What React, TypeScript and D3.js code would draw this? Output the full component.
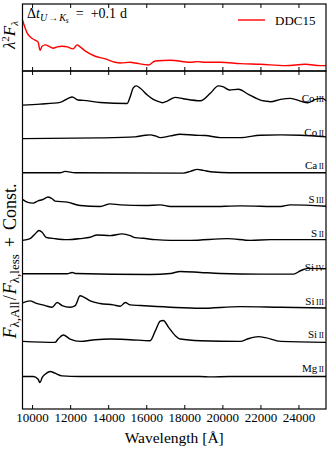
import React from 'react';
import * as d3 from 'd3';

// wavelength axis ticks (Angstrom)
const waveTicks = [10000, 12000, 14000, 16000, 18000, 20000, 22000, 24000];

// top panel: lambda^2 F_lambda of the DDC15 model (arbitrary units)
const ddc15: [number, number][] = [
  [9470, 0.76], [9710, 0.57], [9870, 0.51], [10130, 0.46], [10290, 0.43],
  [10390, 0.31], [10500, 0.37], [10660, 0.39], [10920, 0.36], [11080, 0.34],
  [11290, 0.36], [11550, 0.37], [11820, 0.36], [12130, 0.33], [12340, 0.39],
  [12500, 0.36], [12760, 0.3], [13290, 0.22], [13820, 0.18], [14340, 0.13],
  [14600, 0.12], [15130, 0.13], [15390, 0.12], [16080, 0.09], [16450, 0.15],
  [17240, 0.16], [18290, 0.13], [18660, 0.14], [19080, 0.13], [19870, 0.13],
  [20920, 0.11], [21970, 0.1], [23290, 0.08], [24340, 0.1], [25130, 0.08],
  [25420, 0.08],
];

// main panel: flux ratio all / less for each ion
const coIII: [number, number][] = [
  [9470, 0.99], [10390, 1.02], [11450, 1.07], [11870, 1.19], [12080, 1.23],
  [12390, 1.14], [12660, 1.13], [13550, 1.07], [14970, 1.04], [15130, 1.24],
  [15290, 1.5], [15450, 1.56], [15660, 1.49], [16030, 1.29], [16340, 1.16],
  [16710, 1.08], [16820, 1.06], [17080, 1.11], [17500, 1.22], [17920, 1.18],
  [18820, 1.12], [19340, 1.34], [19760, 1.56], [20030, 1.53], [20340, 1.44],
  [20820, 1.46], [21340, 1.31], [21970, 1.14], [22240, 1.11], [22500, 1.09],
  [23030, 1.16], [23550, 1.19], [24080, 1.11], [24450, 1.06], [24870, 1.16],
  [25240, 1.19], [25420, 1.12],
];
const coII: [number, number][] = [
  [9470, 1.0], [13550, 1.02], [15390, 1.05], [15920, 1.1], [16180, 1.11],
  [16450, 1.08], [16710, 1.03], [17240, 1.08], [17760, 1.13], [18550, 1.1],
  [19080, 1.09], [19870, 1.03], [20920, 1.03], [21970, 1.1], [23030, 1.11],
  [24080, 1.1], [25420, 1.05],
];
const caII: [number, number][] = [
  [9470, 0.99], [11450, 0.99], [11710, 1.03], [12240, 0.99], [17920, 0.98],
  [18290, 1.03], [18660, 1.09], [18970, 1.06], [19500, 1.01], [20340, 0.99],
  [25420, 0.99],
];
const sIII: [number, number][] = [
  [9470, 1.2], [9710, 1.12], [10030, 1.09], [10290, 1.16], [10500, 1.19],
  [10820, 1.27], [11030, 1.22], [11180, 1.15], [11820, 1.12], [12500, 1.02],
  [13550, 0.99], [14080, 1.07], [14610, 1.04], [15920, 1.02], [16710, 1.04],
  [17240, 0.99], [19340, 0.99], [20920, 1.01], [23030, 0.99], [23550, 1.04],
  [25420, 1.0],
];
const sII: [number, number][] = [
  [9470, 0.99], [9870, 1.04], [10130, 1.18], [10340, 1.28], [10500, 1.23],
  [10710, 1.08], [11180, 1.04], [11820, 1.01], [12500, 1.04], [13030, 1.08],
  [13390, 1.15], [14080, 1.13], [14710, 1.18], [15130, 1.13], [15390, 1.07],
  [15820, 1.05], [16450, 1.01], [17240, 0.99], [18290, 0.99], [20240, 1.04],
  [21450, 0.99], [22500, 1.01], [23550, 1.01], [25420, 1.01],
];
const siIV: [number, number][] = [
  [9470, 1.0], [11820, 1.0], [12080, 1.04], [12240, 1.01], [16180, 0.98],
  [17240, 1.01], [17760, 1.07], [18820, 1.04], [19870, 1.01], [21970, 0.99],
  [23710, 0.99], [24080, 1.09], [24450, 1.16], [25420, 1.15],
];
const siIII: [number, number][] = [
  [9470, 1.14], [9870, 1.2], [10130, 1.14], [10660, 1.06], [11030, 1.01],
  [11290, 1.15], [11550, 1.06], [11970, 1.01], [12240, 1.06], [12500, 1.35],
  [12660, 1.32], [13030, 1.2], [13550, 1.12], [14240, 1.08], [14610, 1.04],
  [14870, 1.15], [15130, 1.08], [15660, 1.06], [17240, 1.01], [18820, 0.98],
  [20920, 1.03], [23030, 1.01], [25420, 0.99],
];
const siII: [number, number][] = [
  [9470, 1.0], [11180, 0.97], [11340, 1.07], [11610, 1.19], [11970, 1.07],
  [12500, 1.0], [13290, 1.05], [14080, 1.07], [15130, 1.05], [16180, 1.02],
  [16450, 1.31], [16710, 1.6], [16870, 1.62], [17130, 1.43], [17500, 1.17],
  [17760, 1.07], [18820, 1.02], [20920, 1.0], [21290, 1.07], [21870, 1.14],
  [22240, 1.11], [23030, 1.0], [25420, 0.97],
];
const mgII: [number, number][] = [
  [9470, 0.96], [10030, 0.96], [10290, 0.88], [10390, 0.78], [10500, 0.93],
  [10660, 1.03], [10920, 1.11], [11180, 1.06], [11550, 0.98], [12500, 0.96],
  [18820, 0.96], [19340, 0.95], [20340, 0.96], [25420, 0.96],
];

const ionElements = ['Co', 'Co', 'Ca', 'S', 'S', 'Si', 'Si', 'Si', 'Mg'];
const ionStages = ['III', 'II', 'II', 'III', 'II', 'IV', 'III', 'II', 'II'];
const ionSeries = [coIII, coII, caII, sIII, sII, siIV, siIII, siII, mgII];
const ionOffsets = [8, 7, 6, 5, 4, 3, 2, 1, 0];

const W = 332;
const H = 450;
const left = 22.5;
const right = 326;
const topTop = 4;
const mid = 71;
const bottom = 409;
const serif = "'Liberation Serif', 'Times New Roman', 'DejaVu Serif', serif";

const App = () => {
  const x = d3.scaleLinear().domain([9470, 25420]).range([left, right]);
  const yTop = d3.scaleLinear().domain([0, 1]).range([mid, topTop]);
  const yMain = d3.scaleLinear().domain([0, 10]).range([bottom, mid]);

  const topLine = d3.line<[number, number]>()
    .x(d => x(d[0]))
    .y(d => yTop(d[1]))
    .curve(d3.curveMonotoneX);

  const ionLine = (offset: number) => d3.line<[number, number]>()
    .x(d => x(d[0]))
    .y(d => yMain(d[1] + offset))
    .curve(d3.curveMonotoneX);

  const tickLen = 4;

  return (
    <svg width={W} height={H} style={{ position: 'absolute', left: 0, top: 0 }}
      fontFamily={serif}>
      <rect width={W} height={H} fill="white" />

      {/* top panel */}
      <path d={topLine(ddc15) || ''} fill="none" stroke="#ff0000" strokeWidth={1.4} />
      <rect x={left} y={topTop} width={right - left} height={mid - topTop}
        fill="none" stroke="black" strokeWidth={1.2} />
      {waveTicks.map(t => (
        <g key={'tt' + t}>
          <line x1={x(t)} x2={x(t)} y1={topTop} y2={topTop + tickLen} stroke="black" strokeWidth={1} />
          <line x1={x(t)} x2={x(t)} y1={mid} y2={mid - tickLen} stroke="black" strokeWidth={1} />
        </g>
      ))}
      <text x={27} y={18} fontSize={14}>
        <tspan>Δ</tspan><tspan fontStyle="italic">t</tspan>
        <tspan fontSize={10} fontStyle="italic" dy={3}>U</tspan>
        <tspan fontSize={10} dx={1}>→</tspan>
        <tspan fontSize={10} fontStyle="italic" dx={1}>K</tspan>
        <tspan fontSize={7.5} fontStyle="italic" dy={1.5}>s</tspan>
        <tspan dy={-4.5} dx={7}>=</tspan>
        <tspan dx={7}>+0.1</tspan>
        <tspan dx={4}>d</tspan>
      </text>
      <line x1={238} x2={265} y1={20} y2={20} stroke="#ff0000" strokeWidth={1.4} />
      <text x={275} y={24.5} fontSize={13}>DDC15</text>
      <text transform={`translate(15,35) rotate(-90)`} textAnchor="middle" fontSize={17}>
        <tspan fontStyle="italic">λ</tspan>
        <tspan fontSize={11} dy={-6}>2</tspan>
        <tspan fontStyle="italic" dy={6}>F</tspan>
        <tspan fontSize={11} fontStyle="italic" dy={3}>λ</tspan>
      </text>

      {/* main panel */}
      {ionSeries.map((s, i) => (
        <path key={'ion' + i} d={ionLine(ionOffsets[i])(s) || ''}
          fill="none" stroke="black" strokeWidth={1.4} />
      ))}
      {ionSeries.map((s, i) => (
        <text key={'lab' + i} x={324} y={yMain(1 + ionOffsets[i]) - 3}
          textAnchor="end" fontSize={11}>
          {ionElements[i]}
          <tspan fontSize={8} dx={1.5}>{ionStages[i]}</tspan>
        </text>
      ))}
      <rect x={left} y={mid} width={right - left} height={bottom - mid}
        fill="none" stroke="black" strokeWidth={1.2} />
      {waveTicks.map(t => (
        <g key={'mt' + t}>
          <line x1={x(t)} x2={x(t)} y1={mid} y2={mid + tickLen} stroke="black" strokeWidth={1} />
          <line x1={x(t)} x2={x(t)} y1={bottom} y2={bottom - tickLen} stroke="black" strokeWidth={1} />
          <text x={x(t)} y={422} textAnchor="middle" fontSize={13}>{t}</text>
        </g>
      ))}
      <text x={(left + right) / 2} y={443} textAnchor="middle" fontSize={15.5}>Wavelength [Å]</text>
      <text transform={`translate(15.5,261) rotate(-90)`} textAnchor="middle" fontSize={18}>
        <tspan fontStyle="italic">F</tspan>
        <tspan fontSize={13} dy={3}>λ,All</tspan>
        <tspan dy={-3} dx={1}>/</tspan>
        <tspan fontStyle="italic" dx={1}>F</tspan>
        <tspan fontSize={13} dy={3}>λ,less</tspan>
        <tspan dy={-3} dx={7}>+</tspan>
        <tspan dx={7}>Const.</tspan>
      </text>
    </svg>
  );
};

export default App;
